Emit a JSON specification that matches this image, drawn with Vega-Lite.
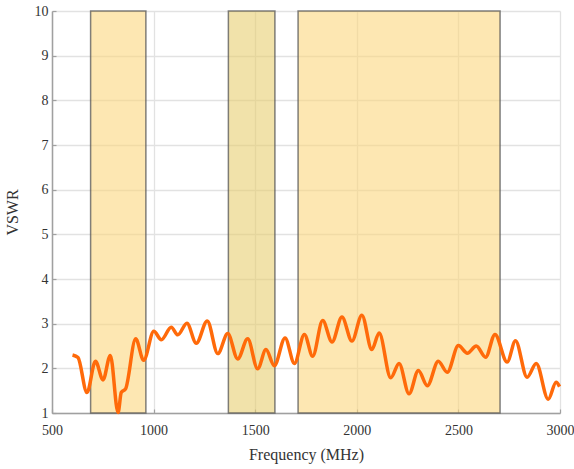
{
  "$schema": "https://vega.github.io/schema/vega-lite/v6.json",
  "width": 508,
  "height": 402,
  "autosize": {"type": "none"},
  "padding": {"left": 52, "top": 11, "right": 14, "bottom": 56},
  "background": "white",
  "config": {
    "view": {"stroke": null},
    "axis": {
      "labelFont": "Liberation Serif",
      "titleFont": "Liberation Serif",
      "labelFontSize": 14,
      "titleFontSize": 16,
      "titleFontWeight": "normal",
      "labelColor": "#333333",
      "titleColor": "#333333",
      "grid": true,
      "gridColor": "#e2e2e2",
      "gridWidth": 1.3,
      "gridOpacity": 1,
      "domainColor": "#a0a0a0",
      "domainWidth": 1.5,
      "tickColor": "#a0a0a0",
      "tickSize": -4,
      "tickWidth": 1.2,
      "labelFlush": false
    }
  },
  "datasets": {
    "bands": [
      {"band": "B1", "start": 690, "end": 962},
      {"band": "B2", "start": 1368, "end": 1597},
      {"band": "B3", "start": 1711, "end": 2705}
    ],
    "vswr": [
      {"freq": 601, "vswr": 2.30},
      {"freq": 628, "vswr": 2.24},
      {"freq": 672, "vswr": 1.46},
      {"freq": 714, "vswr": 2.16},
      {"freq": 751, "vswr": 1.74},
      {"freq": 787, "vswr": 2.29},
      {"freq": 825, "vswr": 1.01},
      {"freq": 841, "vswr": 1.46},
      {"freq": 862, "vswr": 1.54},
      {"freq": 912, "vswr": 2.66},
      {"freq": 951, "vswr": 2.18},
      {"freq": 1001, "vswr": 2.83},
      {"freq": 1038, "vswr": 2.64},
      {"freq": 1087, "vswr": 2.92},
      {"freq": 1119, "vswr": 2.75},
      {"freq": 1164, "vswr": 3.01},
      {"freq": 1210, "vswr": 2.56},
      {"freq": 1264, "vswr": 3.06},
      {"freq": 1316, "vswr": 2.33},
      {"freq": 1365, "vswr": 2.78},
      {"freq": 1414, "vswr": 2.21},
      {"freq": 1463, "vswr": 2.66},
      {"freq": 1512, "vswr": 1.99},
      {"freq": 1553, "vswr": 2.42},
      {"freq": 1594, "vswr": 2.06},
      {"freq": 1647, "vswr": 2.68},
      {"freq": 1693, "vswr": 2.11},
      {"freq": 1742, "vswr": 2.76},
      {"freq": 1783, "vswr": 2.27},
      {"freq": 1832, "vswr": 3.07},
      {"freq": 1878, "vswr": 2.59},
      {"freq": 1927, "vswr": 3.15},
      {"freq": 1976, "vswr": 2.61},
      {"freq": 2025, "vswr": 3.19},
      {"freq": 2074, "vswr": 2.42},
      {"freq": 2110, "vswr": 2.79},
      {"freq": 2167, "vswr": 1.79},
      {"freq": 2208, "vswr": 2.11},
      {"freq": 2257, "vswr": 1.43},
      {"freq": 2303, "vswr": 1.95},
      {"freq": 2347, "vswr": 1.61},
      {"freq": 2401, "vswr": 2.16},
      {"freq": 2445, "vswr": 1.91},
      {"freq": 2500, "vswr": 2.51},
      {"freq": 2544, "vswr": 2.34},
      {"freq": 2588, "vswr": 2.50},
      {"freq": 2634, "vswr": 2.25},
      {"freq": 2680, "vswr": 2.76},
      {"freq": 2740, "vswr": 2.14},
      {"freq": 2781, "vswr": 2.62},
      {"freq": 2838, "vswr": 1.80},
      {"freq": 2883, "vswr": 2.11},
      {"freq": 2942, "vswr": 1.31},
      {"freq": 2981, "vswr": 1.69},
      {"freq": 2998, "vswr": 1.59}
    ]
  },
  "layer": [
    {
      "data": {"name": "bands"},
      "mark": {"type": "rect", "fillOpacity": 0.6, "stroke": "#555555", "strokeWidth": 1.5, "strokeOpacity": 0.75},
      "encoding": {
        "x": {
          "field": "start", "type": "quantitative",
          "scale": {"domain": [500, 3000], "nice": false},
          "axis": {"title": "Frequency (MHz)", "values": [500, 1000, 1500, 2000, 2500, 3000], "format": "d", "labelPadding": 14, "titlePadding": 9, "grid": true}
        },
        "x2": {"field": "end"},
        "y": {
          "datum": 1, "type": "quantitative",
          "scale": {"domain": [1, 10], "nice": false},
          "axis": {"title": "VSWR", "values": [1, 2, 3, 4, 5, 6, 7, 8, 9, 10], "labelPadding": 8, "titlePadding": 14, "grid": true}
        },
        "y2": {"datum": 10},
        "color": {
          "field": "band", "type": "nominal",
          "scale": {"domain": ["B1", "B2", "B3"], "range": ["#fcd77f", "#e8cf72", "#fcd77f"]},
          "legend": null
        }
      }
    },
    {
      "data": {"name": "vswr"},
      "mark": {"type": "line", "interpolate": "monotone", "color": "#ff6a0a", "strokeWidth": 3.5},
      "encoding": {
        "x": {"field": "freq", "type": "quantitative"},
        "y": {"field": "vswr", "type": "quantitative"}
      }
    }
  ]
}
